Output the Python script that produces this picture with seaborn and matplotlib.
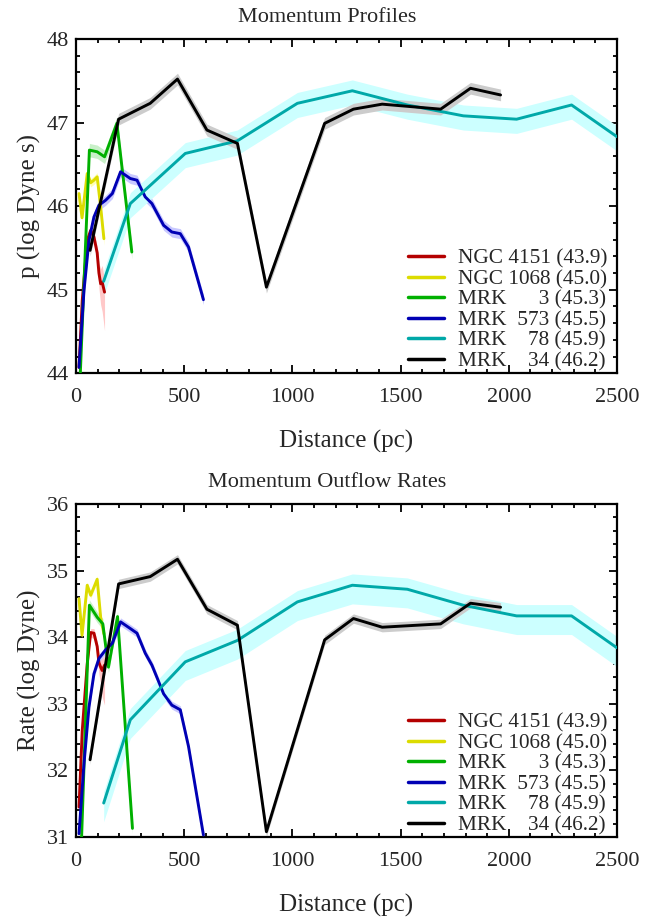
import numpy as np
import pandas as pd
import matplotlib
matplotlib.use("Agg")
import matplotlib.pyplot as plt
from matplotlib.ticker import MultipleLocator
import seaborn as sns

# ---------------- data ----------------
labels = ["NGC 4151 (43.9)", "NGC 1068 (45.0)", "MRK      3 (45.3)",
          "MRK  573 (45.5)", "MRK    78 (45.9)", "MRK    34 (46.2)"]
line_colors = ["#b40000", "#dcdc00", "#00b000", "#0000b4", "#00a8a8", "#000000"]
band_colors = ["#ffc8c8", "#ffffb0", "#c8f0c8", "#c8c8ff", "#ccffff", "#cccccc"]

# NGC 4151
n4151_x = [14, 29, 52, 68, 83, 98, 106, 114, 121, 132]
n4151_p = [44.07, 44.87, 45.59, 45.71, 45.63, 45.44, 45.20, 45.07, 45.09, 44.97]
n4151_p_lo = [0.05, 0.05, 0.05, 0.06, 0.08, 0.10, 0.18, 0.25, 0.35, 0.46]
n4151_p_hi = [0.04, 0.04, 0.05, 0.05, 0.06, 0.08, 0.12, 0.18, 0.20, 0.15]
n4151_r = [31.45, 32.60, 33.60, 34.07, 34.06, 33.86, 33.62, 33.55, 33.50, 33.58]
n4151_r_lo = [0.05, 0.05, 0.06, 0.07, 0.08, 0.10, 0.18, 0.25, 0.40, 0.60]
n4151_r_hi = [0.04, 0.04, 0.05, 0.06, 0.07, 0.08, 0.12, 0.15, 0.18, 0.15]

# NGC 1068
n1068_x = [14, 28, 52, 68, 83, 98, 114, 129]
n1068_p = [46.15, 45.86, 46.39, 46.28, 46.31, 46.35, 45.99, 45.61]
n1068_r = [34.58, 34.03, 34.78, 34.63, 34.75, 34.87, 34.30, 34.05]
n1068_err = [0.04, 0.04, 0.05, 0.05, 0.05, 0.05, 0.06, 0.08]

# MRK 3
mrk3_px = [20, 62, 98, 132, 189, 258]
mrk3_p = [44.00, 46.67, 46.65, 46.59, 46.99, 45.45]
mrk3_rx = [26, 62, 98, 124, 150, 192, 261]
mrk3_r = [31.00, 34.48, 34.30, 34.20, 33.55, 34.31, 31.13]
mrk3_err = 0.08

# MRK 573
mrk573_px = [14, 37, 60, 83, 106, 137, 168, 206, 251, 282, 320, 351, 405, 443, 482, 520, 589]
mrk573_p = [44.07, 44.99, 45.59, 45.87, 46.01, 46.07, 46.15, 46.41, 46.33, 46.31,
            46.11, 46.03, 45.77, 45.69, 45.67, 45.51, 44.88]
mrk573_r = [31.05, 32.10, 32.95, 33.45, 33.68, 33.81, 33.91, 34.23, 34.13, 34.06,
            33.76, 33.58, 33.15, 32.98, 32.91, 32.36, 31.03]
mrk573_err = 0.06

# MRK 78
mrk78_x = [128, 251, 505, 745, 1023, 1277, 1531, 1790, 2036, 2290, 2500]
mrk78_p = [45.10, 46.03, 46.63, 46.78, 47.23, 47.38, 47.21, 47.08, 47.04, 47.21, 46.83]
mrk78_r = [31.51, 32.76, 33.63, 33.95, 34.53, 34.78, 34.72, 34.48, 34.32, 34.32, 33.84]
mrk78_p_lo, mrk78_p_hi = 0.17, 0.13
mrk78_r_lo, mrk78_r_hi = 0.28, 0.17

# MRK 34
mrk34_x = [65, 197, 343, 469, 605, 746, 880, 1149, 1282, 1415, 1685, 1823, 1962]
mrk34_p = [45.47, 47.04, 47.23, 47.52, 46.91, 46.75, 45.03, 46.99, 47.16, 47.22, 47.16, 47.41, 47.33]
mrk34_r = [32.16, 34.80, 34.91, 35.17, 34.42, 34.18, 31.08, 33.96, 34.28, 34.15, 34.20, 34.51, 34.45]
mrk34_err = 0.07


def series(x, y, lo, hi):
    x = np.asarray(x, float)
    y = np.asarray(y, float)
    lo = np.broadcast_to(np.asarray(lo, float), y.shape)
    hi = np.broadcast_to(np.asarray(hi, float), y.shape)
    return x, y, y - lo, y + hi


top = [
    series(n4151_x, n4151_p, n4151_p_lo, n4151_p_hi),
    series(n1068_x, n1068_p, n1068_err, n1068_err),
    series(mrk3_px, mrk3_p, mrk3_err, mrk3_err),
    series(mrk573_px, mrk573_p, mrk573_err, mrk573_err),
    series(mrk78_x, mrk78_p, mrk78_p_lo, mrk78_p_hi),
    series(mrk34_x, mrk34_p, mrk34_err, mrk34_err),
]
bottom = [
    series(n4151_x, n4151_r, n4151_r_lo, n4151_r_hi),
    series(n1068_x, n1068_r, n1068_err, n1068_err),
    series(mrk3_rx, mrk3_r, mrk3_err, mrk3_err),
    series(mrk573_px, mrk573_r, mrk573_err, mrk573_err),
    series(mrk78_x, mrk78_r, mrk78_r_lo, mrk78_r_hi),
    series(mrk34_x, mrk34_r, mrk34_err, mrk34_err),
]

# ---------------- style ----------------
sns.set_theme(style="ticks")
plt.rcParams["font.family"] = ["Liberation Serif", "DejaVu Serif"]

fig = plt.figure(figsize=(6.55, 9.17), dpi=100)
ax1 = fig.add_axes([0.116, 0.593, 0.826, 0.3645])
ax2 = fig.add_axes([0.116, 0.0872, 0.826, 0.3632])


def draw(ax, data, ylim, ylabel, title):
    for (x, y, lo, hi), bc in zip(data, band_colors):
        ax.fill_between(x, lo, hi, color=bc, lw=0, zorder=1)
    for (x, y, lo, hi), lc, lab in zip(data, line_colors, labels):
        df = pd.DataFrame({"Distance": x, "val": y})
        sns.lineplot(data=df, x="Distance", y="val", ax=ax, color=lc, lw=2.1,
                     label=lab, sort=False, zorder=3)
    ax.set_xlim(0, 2500)
    ax.set_ylim(*ylim)
    ax.xaxis.set_major_locator(MultipleLocator(500))
    ax.xaxis.set_minor_locator(MultipleLocator(100))
    ax.yaxis.set_major_locator(MultipleLocator(1))
    ax.yaxis.set_minor_locator(MultipleLocator(0.2))
    ax.tick_params(which="both", direction="in", top=True, right=True,
                   width=1.3, color="black", labelsize=16)
    ax.tick_params(axis="x", which="major", pad=11)
    ax.tick_params(axis="y", which="major", pad=5)
    ax.tick_params(which="major", length=5.5)
    ax.tick_params(which="minor", length=3.2)
    for s in ax.spines.values():
        s.set_linewidth(1.6)
        s.set_color("black")
    ax.set_xlabel("Distance (pc)", fontsize=18, labelpad=16)
    ax.set_ylabel(ylabel, fontsize=18, labelpad=4)
    ax.set_title(title, fontsize=16, pad=12, x=0.465)
    leg = ax.legend(loc="lower right", bbox_to_anchor=(0.997, -0.02),
                    frameon=False, fontsize=15.3,
                    handlelength=1.7, handletextpad=0.65, labelspacing=0.03,
                    borderaxespad=0.0)
    for h in leg.get_lines():
        h.set_linewidth(2.5)


draw(ax1, top, (44, 48), "p (log Dyne s)", "Momentum Profiles")
draw(ax2, bottom, (31, 36), "Rate (log Dyne)", "Momentum Outflow Rates")

fig.savefig("out.png", dpi=100)
